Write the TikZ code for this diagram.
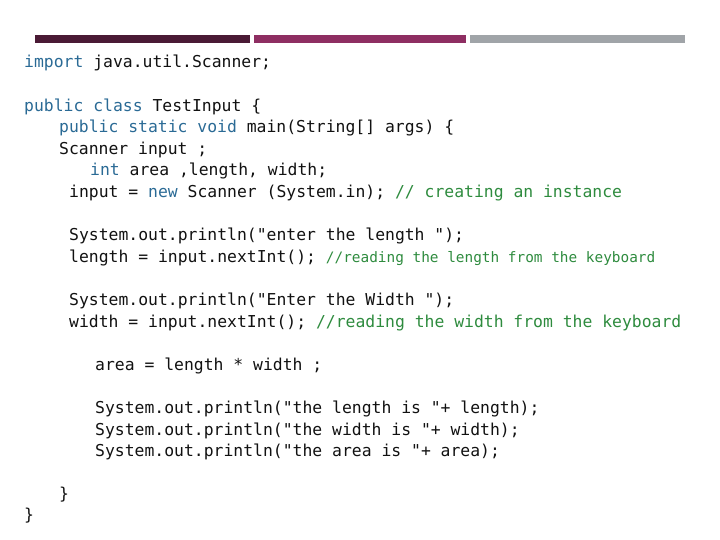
\documentclass[tikz,border=0pt]{standalone}
\usepackage{fontspec}
\setmonofont{DejaVu Sans Mono}
\definecolor{kw}{HTML}{2A6A95}
\definecolor{cm}{HTML}{2E8B3E}
\definecolor{txt}{HTML}{111111}
\definecolor{barA}{HTML}{4A1A35}
\definecolor{barB}{HTML}{8E2E62}
\definecolor{barC}{HTML}{A0A4A8}
\newcommand{\K}[1]{\textcolor{kw}{#1}}
\newcommand{\C}[1]{\textcolor{cm}{#1}}
\begin{document}
\begin{tikzpicture}[x=1pt,y=1pt,
  code/.style={anchor=base west,inner sep=0pt,font=\ttfamily\fontsize{16.4}{18}\selectfont,text=txt}]
\useasboundingbox (0,0) rectangle (720,540);
\fill[barA] (35,497) rectangle (250,505);
\fill[barB] (254,497) rectangle (466,505);
\fill[barC] (470,497) rectangle (685,505);
\node[code] (l1) at (24,540-68) {\K{import} java.util.Scanner;};
\node[code] (l2) at (24,540-112) {\K{public} \K{class} TestInput \{};
\node[code] (l3) at (59,540-133) {\K{public} \K{static} \K{void} main(String[] args) \{};
\node[code] (l4) at (59,540-155) {Scanner input ;};
\node[code] (l5) at (90,540-176) {\K{int} area ,length, width;};
\node[code] (l6) at (69,540-198) {input = \K{new} Scanner (System.in); \C{// creating an instance}};
\node[code] (l7) at (69,540-241) {System.out.println("enter the length ");};
\node[code] (l8) at (69,540-263) {length = input.nextInt(); \C{\fontsize{14.4}{16}\selectfont//reading the length from the keyboard}};
\node[code] (l9) at (69,540-306) {System.out.println("Enter the Width ");};
\node[code] (l10) at (69,540-328) {width = input.nextInt(); \C{//reading the width from the keyboard}};
\node[code] (l11) at (95,540-371) {area = length * width ;};
\node[code] (l12) at (95,540-414) {System.out.println("the length is "+ length);};
\node[code] (l13) at (95,540-436) {System.out.println("the width is "+ width);};
\node[code] (l14) at (95,540-457) {System.out.println("the area is "+ area);};
\node[code] (l15) at (59,540-500) {\}};
\node[code] (l16) at (24,540-521) {\}};
\end{tikzpicture}
\end{document}
